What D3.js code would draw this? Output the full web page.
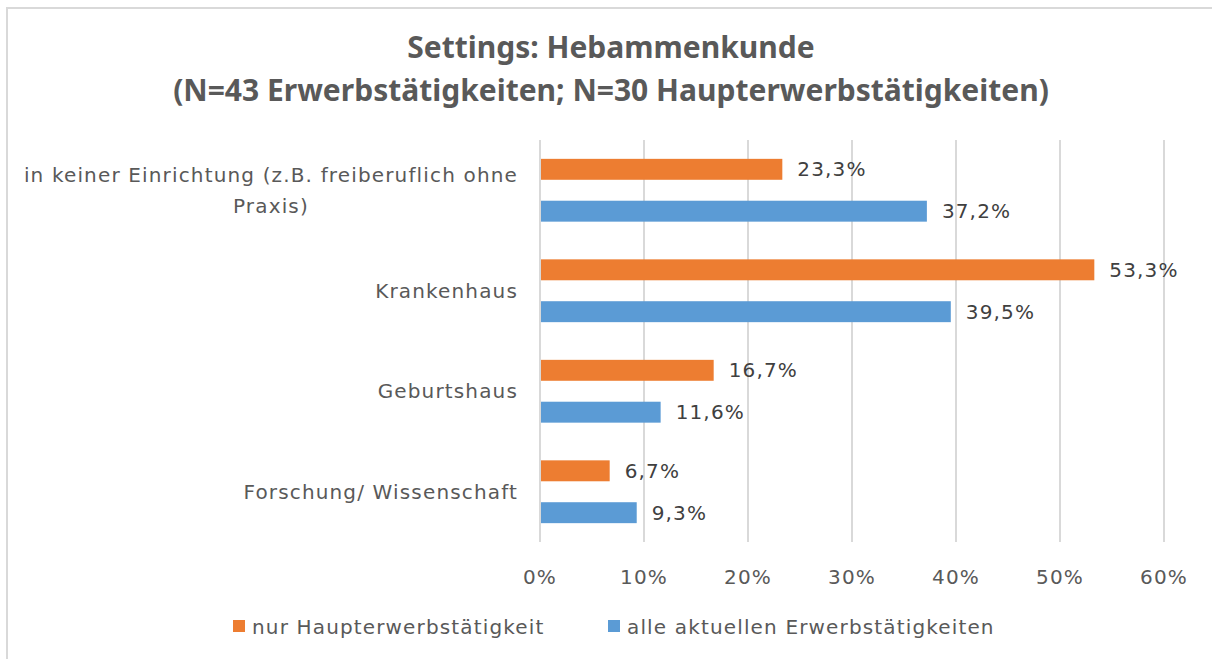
<!DOCTYPE html>
<html>
<head>
<meta charset="utf-8">
<script src="https://cdn.jsdelivr.net/npm/d3@7"></script>
<style>
  body { margin: 0; background: #fff; }
  text { font-family: "Century Gothic", "DejaVu Sans", sans-serif; letter-spacing: 1.15px; }
  text.title { font-family: "Century Gothic", "Noto Sans", sans-serif; letter-spacing: 0px; }
</style>
</head>
<body>
<div id="visualization"></div>
<script>
// chart data
const categories = [
    ["in keiner Einrichtung (z.B. freiberuflich ohne", "Praxis)"],
    ["Krankenhaus"],
    ["Geburtshaus"],
    ["Forschung/ Wissenschaft"]
];
const seriesNames = ["nur Haupterwerbstätigkeit", "alle aktuellen Erwerbstätigkeiten"];
const hauptValues = [23.3, 53.3, 16.7, 6.7];
const alleValues = [37.2, 39.5, 11.6, 9.3];
const tickValues = [0, 10, 20, 30, 40, 50, 60];
const colors = ["#ED7D31", "#5B9BD5"];

function main(){
    let width = 1212;
    let height = 659;

    let svg = d3.select(document.getElementById('visualization'))
        .append('svg')
        .attr('width', width)
        .attr('height', height);

    // chart border (only top and left visible in the frame)
    svg.append("rect")
        .attr("x", 7).attr("y", 8)
        .attr("width", 1230).attr("height", 680)
        .attr("fill", "none")
        .attr("stroke", "#d9d9d9")
        .attr("stroke-width", 2);

    // title
    let title = svg.append("text")
        .attr("class", "title")
        .attr("text-anchor", "middle")
        .attr("font-size", "30px")
        .attr("font-weight", "bold")
        .attr("fill", "#595959");
    title.append("tspan").attr("x", 611).attr("y", 58).text("Settings: Hebammenkunde");
    title.append("tspan").attr("x", 611).attr("y", 101).text("(N=43 Erwerbstätigkeiten; N=30 Haupterwerbstätigkeiten)");

    let x = d3.scaleLinear().domain([0, 60]).range([540, 1164]);
    let y = d3.scaleBand().domain(d3.range(categories.length)).range([140, 542]);
    let ySub = d3.scaleBand().domain([0, 1]).range([0, y.bandwidth()])
        .paddingInner(0.5).paddingOuter(0.45);

    // gridlines
    svg.selectAll(".grid")
        .data(tickValues)
        .enter()
        .append("line")
            .attr("x1", d => x(d)).attr("x2", d => x(d))
            .attr("y1", 140).attr("y2", 542)
            .attr("stroke", "#d9d9d9")
            .attr("stroke-width", 2);

    // tick labels
    svg.selectAll(".tick")
        .data(tickValues)
        .enter()
        .append("text")
            .attr("x", d => x(d))
            .attr("y", 584)
            .attr("text-anchor", "middle")
            .attr("font-size", "20px")
            .attr("fill", "#595959")
            .text(d => d + "%");

    // bars
    let rows = [];
    categories.forEach((c, i) => {
        rows.push({cat: i, s: 0, v: hauptValues[i]});
        rows.push({cat: i, s: 1, v: alleValues[i]});
    });

    svg.selectAll(".bar")
        .data(rows)
        .enter()
        .append("rect")
            .attr("x", x(0) + 1)
            .attr("y", d => y(d.cat) + ySub(d.s))
            .attr("width", d => x(d.v) - x(0) - 1)
            .attr("height", ySub.bandwidth())
            .attr("fill", d => colors[d.s]);

    svg.selectAll(".val")
        .data(rows)
        .enter()
        .append("text")
            .attr("x", d => x(d.v) + 15)
            .attr("y", d => y(d.cat) + ySub(d.s) + ySub.bandwidth() / 2 + 7)
            .attr("font-size", "20px")
            .attr("fill", "#404040")
            .text(d => d.v.toFixed(1).replace(".", ",") + "%");

    // category labels
    categories.forEach((lines, i) => {
        let cy = y(i) + y.bandwidth() / 2;
        let lh = 31;
        let g = svg.append("text")
            .attr("font-size", "20px")
            .attr("fill", "#595959")
            .attr("text-anchor", "middle");
        let tspans = lines.map((l, j) => g.append("tspan")
            .attr("y", cy + 7 + (j - (lines.length - 1) / 2) * lh)
            .text(l));
        // right align the block at x=518, lines centered within it
        let w = d3.max(tspans, t => t.node().getComputedTextLength());
        tspans.forEach(t => t.attr("x", 518 - w / 2));
    });

    // legend
    let legX = [233, 608];
    seriesNames.forEach((name, i) => {
        svg.append("rect")
            .attr("x", legX[i]).attr("y", 620)
            .attr("width", 12).attr("height", 12)
            .attr("fill", colors[i]);
        svg.append("text")
            .attr("x", legX[i] + 19).attr("y", 634)
            .attr("font-size", "20px")
            .attr("fill", "#595959")
            .text(name);
    });
}

window.onload = () => {
    main();
}
</script>
</body>
</html>
